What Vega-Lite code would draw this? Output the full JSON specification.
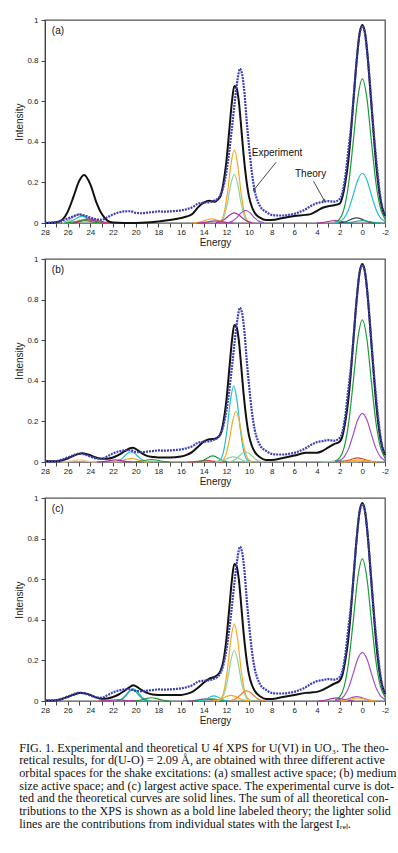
{
"$schema": "https://vega.github.io/schema/vega-lite/v6.json",
"padding": {"top": 15, "left": 14, "right": 8, "bottom": 4},
"config": {
  "font": "Liberation Sans",
  "view": {"stroke": "#555555", "strokeWidth": 1.3},
  "axis": {"grid": false, "domainColor": "#444444", "tickColor": "#444444", "tickSize": 4, "labelFont": "Liberation Sans", "labelFontSize": 8, "labelColor": "#222222", "titleFont": "Liberation Sans", "titleFontSize": 10, "titleFontWeight": "normal", "titleColor": "#222222"},
  "axisX": {"labelPadding": 5, "titlePadding": 1, "labelOverlap": false, "labelFlush": false},
  "axisY": {"labelPadding": 3, "titlePadding": 2}
},
"datasets": {
"exp": [
{"x":28,"y":0.003},{"x":27.5,"y":0.002},{"x":27,"y":0.004},{"x":26.5,"y":0.012},{"x":26,"y":0.022},{"x":25.5,"y":0.033},{"x":25,"y":0.042},{"x":24.5,"y":0.037},{"x":24,"y":0.027},{"x":23.5,"y":0.018},{"x":23,"y":0.016},{"x":22.5,"y":0.028},{"x":22,"y":0.042},{"x":21.5,"y":0.052},{"x":21,"y":0.057},{"x":20.5,"y":0.058},{"x":20,"y":0.05},{"x":19.5,"y":0.048},{"x":19,"y":0.051},{"x":18.5,"y":0.054},{"x":18,"y":0.057},{"x":17.5,"y":0.056},{"x":17,"y":0.057},{"x":16.5,"y":0.059},{"x":16,"y":0.062},{"x":15.5,"y":0.068},{"x":15,"y":0.078},{"x":14.5,"y":0.095},{"x":14,"y":0.1},{"x":13.5,"y":0.102},{"x":13,"y":0.112},{"x":12.75,"y":0.12},{"x":12.5,"y":0.14},{"x":12.25,"y":0.18},{"x":12,"y":0.25},{"x":11.75,"y":0.35},{"x":11.5,"y":0.47},{"x":11.25,"y":0.6},{"x":11,"y":0.71},{"x":10.8,"y":0.76},{"x":10.6,"y":0.73},{"x":10.4,"y":0.64},{"x":10.2,"y":0.5},{"x":10,"y":0.38},{"x":9.75,"y":0.25},{"x":9.5,"y":0.16},{"x":9.25,"y":0.11},{"x":9,"y":0.08},{"x":8.5,"y":0.055},{"x":8,"y":0.04},{"x":7.5,"y":0.037},{"x":7,"y":0.037},{"x":6.5,"y":0.04},{"x":6,"y":0.045},{"x":5.5,"y":0.055},{"x":5,"y":0.068},{"x":4.5,"y":0.085},{"x":4,"y":0.098},{"x":3.5,"y":0.103},{"x":3,"y":0.108},{"x":2.5,"y":0.105},{"x":2,"y":0.118},{"x":1.75,"y":0.15},{"x":1.5,"y":0.23},{"x":1.25,"y":0.35},{"x":1,"y":0.47},{"x":0.75,"y":0.63},{"x":0.5,"y":0.8},{"x":0.25,"y":0.93},{"x":0,"y":0.97},{"x":-0.25,"y":0.93},{"x":-0.5,"y":0.8},{"x":-0.75,"y":0.63},{"x":-1,"y":0.45},{"x":-1.25,"y":0.3},{"x":-1.5,"y":0.17},{"x":-1.75,"y":0.08},{"x":-2,"y":0.04}
],
"ta": [
{"x":28,"y":0},{"x":27,"y":0.004},{"x":26.5,"y":0.015},{"x":26,"y":0.055},{"x":25.5,"y":0.127},{"x":25,"y":0.205},{"x":24.55,"y":0.236},{"x":24,"y":0.19},{"x":23.5,"y":0.107},{"x":23,"y":0.045},{"x":22.5,"y":0.012},{"x":22,"y":0.002},{"x":21,"y":0},{"x":20,"y":0},{"x":19,"y":0.002},{"x":18,"y":0.008},{"x":17,"y":0.015},{"x":16,"y":0.025},{"x":15.5,"y":0.032},{"x":15,"y":0.044},{"x":14.5,"y":0.077},{"x":14,"y":0.1},{"x":13.5,"y":0.11},{"x":13,"y":0.105},{"x":12.75,"y":0.115},{"x":12.5,"y":0.135},{"x":12.25,"y":0.2},{"x":12,"y":0.3},{"x":11.75,"y":0.45},{"x":11.5,"y":0.6},{"x":11.3,"y":0.675},{"x":11.1,"y":0.665},{"x":10.9,"y":0.6},{"x":10.7,"y":0.48},{"x":10.5,"y":0.35},{"x":10.25,"y":0.22},{"x":10,"y":0.13},{"x":9.75,"y":0.08},{"x":9.5,"y":0.05},{"x":9,"y":0.025},{"x":8.5,"y":0.015},{"x":8,"y":0.015},{"x":7,"y":0.025},{"x":6,"y":0.035},{"x":5,"y":0.04},{"x":4.5,"y":0.045},{"x":4,"y":0.06},{"x":3.5,"y":0.075},{"x":3,"y":0.083},{"x":2.5,"y":0.087},{"x":2,"y":0.095},{"x":1.75,"y":0.13},{"x":1.5,"y":0.2},{"x":1.25,"y":0.3},{"x":1,"y":0.45},{"x":0.75,"y":0.63},{"x":0.5,"y":0.8},{"x":0.25,"y":0.93},{"x":0,"y":0.975},{"x":-0.25,"y":0.93},{"x":-0.5,"y":0.8},{"x":-0.75,"y":0.62},{"x":-1,"y":0.44},{"x":-1.25,"y":0.27},{"x":-1.5,"y":0.15},{"x":-1.75,"y":0.075},{"x":-2,"y":0.035}
],
"tb": [
{"x":28,"y":0.005},{"x":27.5,"y":0.004},{"x":27,"y":0.004},{"x":26.5,"y":0.008},{"x":26,"y":0.017},{"x":25.5,"y":0.03},{"x":25,"y":0.04},{"x":24.75,"y":0.043},{"x":24.5,"y":0.041},{"x":24,"y":0.033},{"x":23.5,"y":0.022},{"x":23,"y":0.016},{"x":22.5,"y":0.016},{"x":22,"y":0.022},{"x":21.5,"y":0.035},{"x":21,"y":0.052},{"x":20.5,"y":0.068},{"x":20.25,"y":0.07},{"x":20,"y":0.065},{"x":19.5,"y":0.045},{"x":19,"y":0.03},{"x":18.5,"y":0.025},{"x":18,"y":0.022},{"x":17,"y":0.022},{"x":16,"y":0.027},{"x":15.5,"y":0.035},{"x":15,"y":0.05},{"x":14.5,"y":0.075},{"x":14,"y":0.1},{"x":13.5,"y":0.112},{"x":13,"y":0.115},{"x":12.75,"y":0.122},{"x":12.5,"y":0.14},{"x":12.25,"y":0.2},{"x":12,"y":0.3},{"x":11.75,"y":0.45},{"x":11.5,"y":0.6},{"x":11.3,"y":0.675},{"x":11.1,"y":0.665},{"x":10.9,"y":0.6},{"x":10.7,"y":0.48},{"x":10.5,"y":0.35},{"x":10.25,"y":0.22},{"x":10,"y":0.13},{"x":9.75,"y":0.08},{"x":9.5,"y":0.05},{"x":9,"y":0.022},{"x":8.5,"y":0.01},{"x":8,"y":0.01},{"x":7,"y":0.02},{"x":6,"y":0.032},{"x":5,"y":0.045},{"x":4.5,"y":0.046},{"x":4,"y":0.045},{"x":3.5,"y":0.055},{"x":3,"y":0.072},{"x":2.5,"y":0.088},{"x":2,"y":0.1},{"x":1.75,"y":0.13},{"x":1.5,"y":0.2},{"x":1.25,"y":0.3},{"x":1,"y":0.45},{"x":0.75,"y":0.63},{"x":0.5,"y":0.8},{"x":0.25,"y":0.93},{"x":0,"y":0.975},{"x":-0.25,"y":0.93},{"x":-0.5,"y":0.8},{"x":-0.75,"y":0.62},{"x":-1,"y":0.44},{"x":-1.25,"y":0.27},{"x":-1.5,"y":0.15},{"x":-1.75,"y":0.075},{"x":-2,"y":0.035}
],
"tc": [
{"x":28,"y":0.002},{"x":27.5,"y":0.002},{"x":27,"y":0.004},{"x":26.5,"y":0.01},{"x":26,"y":0.02},{"x":25.5,"y":0.03},{"x":25,"y":0.039},{"x":24.75,"y":0.04},{"x":24.5,"y":0.038},{"x":24,"y":0.03},{"x":23.5,"y":0.018},{"x":23,"y":0.011},{"x":22.5,"y":0.012},{"x":22,"y":0.02},{"x":21.5,"y":0.032},{"x":21,"y":0.05},{"x":20.5,"y":0.07},{"x":20.2,"y":0.077},{"x":20,"y":0.073},{"x":19.5,"y":0.055},{"x":19,"y":0.04},{"x":18.5,"y":0.032},{"x":18,"y":0.03},{"x":17,"y":0.029},{"x":16,"y":0.03},{"x":15.5,"y":0.035},{"x":15,"y":0.045},{"x":14.5,"y":0.065},{"x":14,"y":0.09},{"x":13.5,"y":0.11},{"x":13,"y":0.12},{"x":12.75,"y":0.13},{"x":12.5,"y":0.15},{"x":12.25,"y":0.2},{"x":12,"y":0.3},{"x":11.75,"y":0.45},{"x":11.5,"y":0.6},{"x":11.3,"y":0.675},{"x":11.1,"y":0.665},{"x":10.9,"y":0.6},{"x":10.7,"y":0.48},{"x":10.5,"y":0.35},{"x":10.25,"y":0.22},{"x":10,"y":0.13},{"x":9.75,"y":0.08},{"x":9.5,"y":0.05},{"x":9,"y":0.022},{"x":8.5,"y":0.01},{"x":8,"y":0.01},{"x":7,"y":0.02},{"x":6,"y":0.03},{"x":5,"y":0.04},{"x":4.5,"y":0.042},{"x":4,"y":0.045},{"x":3.5,"y":0.055},{"x":3,"y":0.07},{"x":2.5,"y":0.085},{"x":2,"y":0.1},{"x":1.75,"y":0.13},{"x":1.5,"y":0.2},{"x":1.25,"y":0.3},{"x":1,"y":0.45},{"x":0.75,"y":0.63},{"x":0.5,"y":0.8},{"x":0.25,"y":0.93},{"x":0,"y":0.975},{"x":-0.25,"y":0.93},{"x":-0.5,"y":0.8},{"x":-0.75,"y":0.62},{"x":-1,"y":0.44},{"x":-1.25,"y":0.27},{"x":-1.5,"y":0.15},{"x":-1.75,"y":0.075},{"x":-2,"y":0.035}
],
"ca": [
{"s":"a1","c":"blue","x":26.6,"y":0.001},{"s":"a1","c":"blue","x":26.2,"y":0.006},{"s":"a1","c":"blue","x":25.8,"y":0.017},{"s":"a1","c":"blue","x":25.4,"y":0.034},{"s":"a1","c":"blue","x":25.0,"y":0.042},{"s":"a1","c":"blue","x":24.6,"y":0.034},{"s":"a1","c":"blue","x":24.2,"y":0.017},{"s":"a1","c":"blue","x":23.8,"y":0.006},{"s":"a1","c":"blue","x":23.4,"y":0.001},
{"s":"a2","c":"paleorange","x":26.5,"y":0.001},{"s":"a2","c":"paleorange","x":26.1,"y":0.006},{"s":"a2","c":"paleorange","x":25.7,"y":0.019},{"s":"a2","c":"paleorange","x":25.3,"y":0.037},{"s":"a2","c":"paleorange","x":24.9,"y":0.046},{"s":"a2","c":"paleorange","x":24.5,"y":0.037},{"s":"a2","c":"paleorange","x":24.1,"y":0.019},{"s":"a2","c":"paleorange","x":23.7,"y":0.006},{"s":"a2","c":"paleorange","x":23.3,"y":0.001},
{"s":"a3","c":"cyan","x":26.3,"y":0.001},{"s":"a3","c":"cyan","x":25.9,"y":0.005},{"s":"a3","c":"cyan","x":25.5,"y":0.014},{"s":"a3","c":"cyan","x":25.1,"y":0.027},{"s":"a3","c":"cyan","x":24.7,"y":0.034},{"s":"a3","c":"cyan","x":24.3,"y":0.027},{"s":"a3","c":"cyan","x":23.9,"y":0.014},{"s":"a3","c":"cyan","x":23.5,"y":0.005},{"s":"a3","c":"cyan","x":23.1,"y":0.001},
{"s":"a4","c":"orange","x":26.1,"y":0},{"s":"a4","c":"orange","x":25.7,"y":0.002},{"s":"a4","c":"orange","x":25.3,"y":0.007},{"s":"a4","c":"orange","x":24.9,"y":0.014},{"s":"a4","c":"orange","x":24.5,"y":0.018},{"s":"a4","c":"orange","x":24.1,"y":0.014},{"s":"a4","c":"orange","x":23.7,"y":0.007},{"s":"a4","c":"orange","x":23.3,"y":0.002},{"s":"a4","c":"orange","x":22.9,"y":0},
{"s":"a5","c":"red","x":25.6,"y":0.001},{"s":"a5","c":"red","x":25.2,"y":0.004},{"s":"a5","c":"red","x":24.8,"y":0.01},{"s":"a5","c":"red","x":24.4,"y":0.017},{"s":"a5","c":"red","x":24.0,"y":0.02},{"s":"a5","c":"red","x":23.6,"y":0.017},{"s":"a5","c":"red","x":23.2,"y":0.01},{"s":"a5","c":"red","x":22.8,"y":0.004},{"s":"a5","c":"red","x":22.4,"y":0.001},
{"s":"a6","c":"magenta","x":25.8,"y":0},{"s":"a6","c":"magenta","x":25.4,"y":0.002},{"s":"a6","c":"magenta","x":25.0,"y":0.007},{"s":"a6","c":"magenta","x":24.6,"y":0.013},{"s":"a6","c":"magenta","x":24.2,"y":0.016},{"s":"a6","c":"magenta","x":23.8,"y":0.013},{"s":"a6","c":"magenta","x":23.4,"y":0.007},{"s":"a6","c":"magenta","x":23.0,"y":0.002},{"s":"a6","c":"magenta","x":22.6,"y":0},
{"s":"a7","c":"green","x":26.2,"y":0},{"s":"a7","c":"green","x":25.8,"y":0.002},{"s":"a7","c":"green","x":25.4,"y":0.005},{"s":"a7","c":"green","x":25.0,"y":0.01},{"s":"a7","c":"green","x":24.6,"y":0.012},{"s":"a7","c":"green","x":24.2,"y":0.01},{"s":"a7","c":"green","x":23.8,"y":0.005},{"s":"a7","c":"green","x":23.4,"y":0.002},{"s":"a7","c":"green","x":23.0,"y":0},
{"s":"a8","c":"orange","x":14.9,"y":0.001},{"s":"a8","c":"orange","x":14.5,"y":0.003},{"s":"a8","c":"orange","x":14.1,"y":0.008},{"s":"a8","c":"orange","x":13.7,"y":0.016},{"s":"a8","c":"orange","x":13.3,"y":0.02},{"s":"a8","c":"orange","x":12.9,"y":0.016},{"s":"a8","c":"orange","x":12.5,"y":0.008},{"s":"a8","c":"orange","x":12.1,"y":0.003},{"s":"a8","c":"orange","x":11.7,"y":0.001},
{"s":"a9","c":"magenta","x":14.6,"y":0},{"s":"a9","c":"magenta","x":14.2,"y":0.001},{"s":"a9","c":"magenta","x":13.8,"y":0.004},{"s":"a9","c":"magenta","x":13.4,"y":0.008},{"s":"a9","c":"magenta","x":13.0,"y":0.01},{"s":"a9","c":"magenta","x":12.6,"y":0.008},{"s":"a9","c":"magenta","x":12.2,"y":0.004},{"s":"a9","c":"magenta","x":11.8,"y":0.001},{"s":"a9","c":"magenta","x":11.4,"y":0},
{"s":"a10","c":"orange","x":12.8,"y":0.001},{"s":"a10","c":"orange","x":12.5,"y":0.01},{"s":"a10","c":"orange","x":12.2,"y":0.049},{"s":"a10","c":"orange","x":11.9,"y":0.148},{"s":"a10","c":"orange","x":11.6,"y":0.288},{"s":"a10","c":"orange","x":11.3,"y":0.36},{"s":"a10","c":"orange","x":11.0,"y":0.288},{"s":"a10","c":"orange","x":10.7,"y":0.148},{"s":"a10","c":"orange","x":10.4,"y":0.049},{"s":"a10","c":"orange","x":10.1,"y":0.01},{"s":"a10","c":"orange","x":9.8,"y":0.001},
{"s":"a11","c":"lightgreen","x":12.8,"y":0.001},{"s":"a11","c":"lightgreen","x":12.5,"y":0.007},{"s":"a11","c":"lightgreen","x":12.2,"y":0.032},{"s":"a11","c":"lightgreen","x":11.9,"y":0.098},{"s":"a11","c":"lightgreen","x":11.6,"y":0.192},{"s":"a11","c":"lightgreen","x":11.3,"y":0.24},{"s":"a11","c":"lightgreen","x":11.0,"y":0.192},{"s":"a11","c":"lightgreen","x":10.7,"y":0.098},{"s":"a11","c":"lightgreen","x":10.4,"y":0.032},{"s":"a11","c":"lightgreen","x":10.1,"y":0.007},{"s":"a11","c":"lightgreen","x":9.8,"y":0.001},
{"s":"a12","c":"magenta","x":12.9,"y":0.001},{"s":"a12","c":"magenta","x":12.5,"y":0.007},{"s":"a12","c":"magenta","x":12.1,"y":0.021},{"s":"a12","c":"magenta","x":11.7,"y":0.04},{"s":"a12","c":"magenta","x":11.3,"y":0.05},{"s":"a12","c":"magenta","x":10.9,"y":0.04},{"s":"a12","c":"magenta","x":10.5,"y":0.021},{"s":"a12","c":"magenta","x":10.1,"y":0.007},{"s":"a12","c":"magenta","x":9.7,"y":0.001},
{"s":"a13","c":"purple","x":11.9,"y":0.002},{"s":"a13","c":"purple","x":11.5,"y":0.008},{"s":"a13","c":"purple","x":11.1,"y":0.025},{"s":"a13","c":"purple","x":10.7,"y":0.05},{"s":"a13","c":"purple","x":10.3,"y":0.062},{"s":"a13","c":"purple","x":9.9,"y":0.05},{"s":"a13","c":"purple","x":9.5,"y":0.025},{"s":"a13","c":"purple","x":9.1,"y":0.008},{"s":"a13","c":"purple","x":8.7,"y":0.002},
{"s":"a14","c":"magenta","x":4.0,"y":0},{"s":"a14","c":"magenta","x":3.6,"y":0.002},{"s":"a14","c":"magenta","x":3.2,"y":0.005},{"s":"a14","c":"magenta","x":2.8,"y":0.01},{"s":"a14","c":"magenta","x":2.4,"y":0.012},{"s":"a14","c":"magenta","x":2.0,"y":0.01},{"s":"a14","c":"magenta","x":1.6,"y":0.005},{"s":"a14","c":"magenta","x":1.2,"y":0.002},{"s":"a14","c":"magenta","x":0.8,"y":0},
{"s":"a15","c":"green","x":2.4,"y":0.005},{"s":"a15","c":"green","x":2.0,"y":0.02},{"s":"a15","c":"green","x":1.6,"y":0.073},{"s":"a15","c":"green","x":1.2,"y":0.197},{"s":"a15","c":"green","x":0.8,"y":0.402},{"s":"a15","c":"green","x":0.4,"y":0.616},{"s":"a15","c":"green","x":0,"y":0.71},{"s":"a15","c":"green","x":-0.4,"y":0.616},{"s":"a15","c":"green","x":-0.8,"y":0.402},{"s":"a15","c":"green","x":-1.2,"y":0.197},{"s":"a15","c":"green","x":-1.6,"y":0.073},{"s":"a15","c":"green","x":-2.0,"y":0.02},
{"s":"a16","c":"cyan","x":2.4,"y":0.002},{"s":"a16","c":"cyan","x":2.0,"y":0.007},{"s":"a16","c":"cyan","x":1.6,"y":0.025},{"s":"a16","c":"cyan","x":1.2,"y":0.068},{"s":"a16","c":"cyan","x":0.8,"y":0.139},{"s":"a16","c":"cyan","x":0.4,"y":0.212},{"s":"a16","c":"cyan","x":0,"y":0.245},{"s":"a16","c":"cyan","x":-0.4,"y":0.212},{"s":"a16","c":"cyan","x":-0.8,"y":0.139},{"s":"a16","c":"cyan","x":-1.2,"y":0.068},{"s":"a16","c":"cyan","x":-1.6,"y":0.025},{"s":"a16","c":"cyan","x":-2.0,"y":0.007},
{"s":"a17","c":"darkgray","x":2.1,"y":0.001},{"s":"a17","c":"darkgray","x":1.7,"y":0.003},{"s":"a17","c":"darkgray","x":1.3,"y":0.01},{"s":"a17","c":"darkgray","x":0.9,"y":0.02},{"s":"a17","c":"darkgray","x":0.5,"y":0.025},{"s":"a17","c":"darkgray","x":0.1,"y":0.02},{"s":"a17","c":"darkgray","x":-0.3,"y":0.01},{"s":"a17","c":"darkgray","x":-0.7,"y":0.003},{"s":"a17","c":"darkgray","x":-1.1,"y":0.001},
{"s":"a18","c":"teal","x":1.6,"y":0},{"s":"a18","c":"teal","x":1.2,"y":0.002},{"s":"a18","c":"teal","x":0.8,"y":0.005},{"s":"a18","c":"teal","x":0.4,"y":0.01},{"s":"a18","c":"teal","x":0,"y":0.012},{"s":"a18","c":"teal","x":-0.4,"y":0.01},{"s":"a18","c":"teal","x":-0.8,"y":0.005},{"s":"a18","c":"teal","x":-1.2,"y":0.002},{"s":"a18","c":"teal","x":-1.6,"y":0}
],
"cb": [
{"s":"b1","c":"cyan","x":22.0,"y":0.001},{"s":"b1","c":"cyan","x":21.6,"y":0.005},{"s":"b1","c":"cyan","x":21.3,"y":0.013},{"s":"b1","c":"cyan","x":21.0,"y":0.028},{"s":"b1","c":"cyan","x":20.7,"y":0.043},{"s":"b1","c":"cyan","x":20.4,"y":0.05},{"s":"b1","c":"cyan","x":20.1,"y":0.043},{"s":"b1","c":"cyan","x":19.8,"y":0.028},{"s":"b1","c":"cyan","x":19.5,"y":0.013},{"s":"b1","c":"cyan","x":19.2,"y":0.005},{"s":"b1","c":"cyan","x":18.8,"y":0.001},
{"s":"b2","c":"orange","x":22.0,"y":0},{"s":"b2","c":"orange","x":21.6,"y":0.002},{"s":"b2","c":"orange","x":21.2,"y":0.007},{"s":"b2","c":"orange","x":20.8,"y":0.014},{"s":"b2","c":"orange","x":20.4,"y":0.018},{"s":"b2","c":"orange","x":20.0,"y":0.014},{"s":"b2","c":"orange","x":19.6,"y":0.007},{"s":"b2","c":"orange","x":19.2,"y":0.002},{"s":"b2","c":"orange","x":18.8,"y":0},
{"s":"b3","c":"green","x":20.2,"y":0},{"s":"b3","c":"green","x":19.8,"y":0.002},{"s":"b3","c":"green","x":19.4,"y":0.005},{"s":"b3","c":"green","x":19.0,"y":0.01},{"s":"b3","c":"green","x":18.6,"y":0.012},{"s":"b3","c":"green","x":18.2,"y":0.01},{"s":"b3","c":"green","x":17.8,"y":0.005},{"s":"b3","c":"green","x":17.4,"y":0.002},{"s":"b3","c":"green","x":17.0,"y":0},
{"s":"b4","c":"magenta","x":23.4,"y":0},{"s":"b4","c":"magenta","x":23.0,"y":0.001},{"s":"b4","c":"magenta","x":22.6,"y":0.004},{"s":"b4","c":"magenta","x":22.2,"y":0.008},{"s":"b4","c":"magenta","x":21.8,"y":0.01},{"s":"b4","c":"magenta","x":21.4,"y":0.008},{"s":"b4","c":"magenta","x":21.0,"y":0.004},{"s":"b4","c":"magenta","x":20.6,"y":0.001},{"s":"b4","c":"magenta","x":20.2,"y":0},
{"s":"b5","c":"paleorange","x":26.6,"y":0},{"s":"b5","c":"paleorange","x":26.2,"y":0.001},{"s":"b5","c":"paleorange","x":25.8,"y":0.004},{"s":"b5","c":"paleorange","x":25.4,"y":0.008},{"s":"b5","c":"paleorange","x":25.0,"y":0.01},{"s":"b5","c":"paleorange","x":24.6,"y":0.008},{"s":"b5","c":"paleorange","x":24.2,"y":0.004},{"s":"b5","c":"paleorange","x":23.8,"y":0.001},{"s":"b5","c":"paleorange","x":23.4,"y":0},
{"s":"b6","c":"red","x":15.4,"y":0},{"s":"b6","c":"red","x":15.0,"y":0.001},{"s":"b6","c":"red","x":14.6,"y":0.003},{"s":"b6","c":"red","x":14.2,"y":0.006},{"s":"b6","c":"red","x":13.8,"y":0.008},{"s":"b6","c":"red","x":13.4,"y":0.006},{"s":"b6","c":"red","x":13.0,"y":0.003},{"s":"b6","c":"red","x":12.6,"y":0.001},{"s":"b6","c":"red","x":12.2,"y":0},
{"s":"b7","c":"green","x":14.6,"y":0.001},{"s":"b7","c":"green","x":14.2,"y":0.004},{"s":"b7","c":"green","x":13.8,"y":0.015},{"s":"b7","c":"green","x":13.5,"y":0.025},{"s":"b7","c":"green","x":13.2,"y":0.03},{"s":"b7","c":"green","x":12.9,"y":0.025},{"s":"b7","c":"green","x":12.6,"y":0.015},{"s":"b7","c":"green","x":12.2,"y":0.004},{"s":"b7","c":"green","x":11.8,"y":0.001},
{"s":"b8","c":"cyan","x":12.85,"y":0.002},{"s":"b8","c":"cyan","x":12.55,"y":0.01},{"s":"b8","c":"cyan","x":12.25,"y":0.051},{"s":"b8","c":"cyan","x":11.95,"y":0.154},{"s":"b8","c":"cyan","x":11.65,"y":0.3},{"s":"b8","c":"cyan","x":11.35,"y":0.375},{"s":"b8","c":"cyan","x":11.05,"y":0.3},{"s":"b8","c":"cyan","x":10.75,"y":0.154},{"s":"b8","c":"cyan","x":10.45,"y":0.051},{"s":"b8","c":"cyan","x":10.15,"y":0.01},{"s":"b8","c":"cyan","x":9.85,"y":0.002},
{"s":"b9","c":"orange","x":12.65,"y":0.001},{"s":"b9","c":"orange","x":12.35,"y":0.007},{"s":"b9","c":"orange","x":12.05,"y":0.034},{"s":"b9","c":"orange","x":11.75,"y":0.103},{"s":"b9","c":"orange","x":11.45,"y":0.2},{"s":"b9","c":"orange","x":11.15,"y":0.25},{"s":"b9","c":"orange","x":10.85,"y":0.2},{"s":"b9","c":"orange","x":10.55,"y":0.103},{"s":"b9","c":"orange","x":10.25,"y":0.034},{"s":"b9","c":"orange","x":9.95,"y":0.007},{"s":"b9","c":"orange","x":9.65,"y":0.001},
{"s":"b10","c":"lightgreen","x":11.9,"y":0.001},{"s":"b10","c":"lightgreen","x":11.5,"y":0.005},{"s":"b10","c":"lightgreen","x":11.2,"y":0.013},{"s":"b10","c":"lightgreen","x":10.9,"y":0.028},{"s":"b10","c":"lightgreen","x":10.6,"y":0.043},{"s":"b10","c":"lightgreen","x":10.3,"y":0.05},{"s":"b10","c":"lightgreen","x":10.0,"y":0.043},{"s":"b10","c":"lightgreen","x":9.7,"y":0.028},{"s":"b10","c":"lightgreen","x":9.4,"y":0.013},{"s":"b10","c":"lightgreen","x":9.1,"y":0.005},{"s":"b10","c":"lightgreen","x":8.7,"y":0.001},
{"s":"b11","c":"lightgreen","x":13.0,"y":0.001},{"s":"b11","c":"lightgreen","x":12.6,"y":0.003},{"s":"b11","c":"lightgreen","x":12.2,"y":0.01},{"s":"b11","c":"lightgreen","x":11.8,"y":0.02},{"s":"b11","c":"lightgreen","x":11.4,"y":0.025},{"s":"b11","c":"lightgreen","x":11.0,"y":0.02},{"s":"b11","c":"lightgreen","x":10.6,"y":0.01},{"s":"b11","c":"lightgreen","x":10.2,"y":0.003},{"s":"b11","c":"lightgreen","x":9.8,"y":0.001},
{"s":"b12","c":"lightgreen","x":3.6,"y":0},{"s":"b12","c":"lightgreen","x":3.2,"y":0.001},{"s":"b12","c":"lightgreen","x":2.8,"y":0.003},{"s":"b12","c":"lightgreen","x":2.4,"y":0.006},{"s":"b12","c":"lightgreen","x":2.0,"y":0.008},{"s":"b12","c":"lightgreen","x":1.6,"y":0.006},{"s":"b12","c":"lightgreen","x":1.2,"y":0.003},{"s":"b12","c":"lightgreen","x":0.8,"y":0.001},{"s":"b12","c":"lightgreen","x":0.4,"y":0},
{"s":"b13","c":"green","x":2.4,"y":0.005},{"s":"b13","c":"green","x":2.0,"y":0.02},{"s":"b13","c":"green","x":1.6,"y":0.072},{"s":"b13","c":"green","x":1.2,"y":0.195},{"s":"b13","c":"green","x":0.8,"y":0.396},{"s":"b13","c":"green","x":0.4,"y":0.607},{"s":"b13","c":"green","x":0,"y":0.7},{"s":"b13","c":"green","x":-0.4,"y":0.607},{"s":"b13","c":"green","x":-0.8,"y":0.396},{"s":"b13","c":"green","x":-1.2,"y":0.195},{"s":"b13","c":"green","x":-1.6,"y":0.072},{"s":"b13","c":"green","x":-2.0,"y":0.02},
{"s":"b14","c":"purple","x":2.4,"y":0.002},{"s":"b14","c":"purple","x":2.0,"y":0.007},{"s":"b14","c":"purple","x":1.6,"y":0.025},{"s":"b14","c":"purple","x":1.2,"y":0.067},{"s":"b14","c":"purple","x":0.8,"y":0.136},{"s":"b14","c":"purple","x":0.4,"y":0.208},{"s":"b14","c":"purple","x":0,"y":0.24},{"s":"b14","c":"purple","x":-0.4,"y":0.208},{"s":"b14","c":"purple","x":-0.8,"y":0.136},{"s":"b14","c":"purple","x":-1.2,"y":0.067},{"s":"b14","c":"purple","x":-1.6,"y":0.025},{"s":"b14","c":"purple","x":-2.0,"y":0.007},
{"s":"b15","c":"red","x":2.0,"y":0.001},{"s":"b15","c":"red","x":1.6,"y":0.003},{"s":"b15","c":"red","x":1.2,"y":0.008},{"s":"b15","c":"red","x":0.8,"y":0.016},{"s":"b15","c":"red","x":0.4,"y":0.02},{"s":"b15","c":"red","x":0.0,"y":0.016},{"s":"b15","c":"red","x":-0.4,"y":0.008},{"s":"b15","c":"red","x":-0.8,"y":0.003},{"s":"b15","c":"red","x":-1.2,"y":0.001},
{"s":"b16","c":"orange","x":1.9,"y":0},{"s":"b16","c":"orange","x":1.5,"y":0.001},{"s":"b16","c":"orange","x":1.1,"y":0.004},{"s":"b16","c":"orange","x":0.7,"y":0.008},{"s":"b16","c":"orange","x":0.3,"y":0.01},{"s":"b16","c":"orange","x":-0.1,"y":0.008},{"s":"b16","c":"orange","x":-0.5,"y":0.004},{"s":"b16","c":"orange","x":-0.9,"y":0.001},{"s":"b16","c":"orange","x":-1.3,"y":0}
],
"cc": [
{"s":"c1","c":"cyan","x":21.6,"y":0.001},{"s":"c1","c":"cyan","x":21.2,"y":0.008},{"s":"c1","c":"cyan","x":20.8,"y":0.029},{"s":"c1","c":"cyan","x":20.5,"y":0.05},{"s":"c1","c":"cyan","x":20.2,"y":0.06},{"s":"c1","c":"cyan","x":19.9,"y":0.05},{"s":"c1","c":"cyan","x":19.6,"y":0.029},{"s":"c1","c":"cyan","x":19.2,"y":0.008},{"s":"c1","c":"cyan","x":18.8,"y":0.001},
{"s":"c2","c":"teal","x":21.7,"y":0.001},{"s":"c2","c":"teal","x":21.3,"y":0.007},{"s":"c2","c":"teal","x":20.9,"y":0.027},{"s":"c2","c":"teal","x":20.6,"y":0.046},{"s":"c2","c":"teal","x":20.3,"y":0.055},{"s":"c2","c":"teal","x":20.0,"y":0.046},{"s":"c2","c":"teal","x":19.7,"y":0.027},{"s":"c2","c":"teal","x":19.3,"y":0.007},{"s":"c2","c":"teal","x":18.9,"y":0.001},
{"s":"c3","c":"green","x":20.2,"y":0},{"s":"c3","c":"green","x":19.8,"y":0.002},{"s":"c3","c":"green","x":19.4,"y":0.007},{"s":"c3","c":"green","x":19.0,"y":0.013},{"s":"c3","c":"green","x":18.6,"y":0.016},{"s":"c3","c":"green","x":18.2,"y":0.013},{"s":"c3","c":"green","x":17.8,"y":0.007},{"s":"c3","c":"green","x":17.4,"y":0.002},{"s":"c3","c":"green","x":17.0,"y":0},
{"s":"c4","c":"magenta","x":23.2,"y":0},{"s":"c4","c":"magenta","x":22.8,"y":0.001},{"s":"c4","c":"magenta","x":22.4,"y":0.002},{"s":"c4","c":"magenta","x":22.0,"y":0.005},{"s":"c4","c":"magenta","x":21.6,"y":0.006},{"s":"c4","c":"magenta","x":21.2,"y":0.005},{"s":"c4","c":"magenta","x":20.8,"y":0.002},{"s":"c4","c":"magenta","x":20.4,"y":0.001},{"s":"c4","c":"magenta","x":20.0,"y":0},
{"s":"c5","c":"magenta","x":15.4,"y":0},{"s":"c5","c":"magenta","x":15.0,"y":0.001},{"s":"c5","c":"magenta","x":14.6,"y":0.004},{"s":"c5","c":"magenta","x":14.2,"y":0.008},{"s":"c5","c":"magenta","x":13.8,"y":0.01},{"s":"c5","c":"magenta","x":13.4,"y":0.008},{"s":"c5","c":"magenta","x":13.0,"y":0.004},{"s":"c5","c":"magenta","x":12.6,"y":0.001},{"s":"c5","c":"magenta","x":12.2,"y":0},
{"s":"c6","c":"green","x":14.9,"y":0},{"s":"c6","c":"green","x":14.5,"y":0.001},{"s":"c6","c":"green","x":14.1,"y":0.004},{"s":"c6","c":"green","x":13.7,"y":0.008},{"s":"c6","c":"green","x":13.3,"y":0.01},{"s":"c6","c":"green","x":12.9,"y":0.008},{"s":"c6","c":"green","x":12.5,"y":0.004},{"s":"c6","c":"green","x":12.1,"y":0.001},{"s":"c6","c":"green","x":11.7,"y":0},
{"s":"c7","c":"cyan","x":14.5,"y":0.001},{"s":"c7","c":"cyan","x":14.1,"y":0.003},{"s":"c7","c":"cyan","x":13.7,"y":0.012},{"s":"c7","c":"cyan","x":13.4,"y":0.021},{"s":"c7","c":"cyan","x":13.1,"y":0.025},{"s":"c7","c":"cyan","x":12.8,"y":0.021},{"s":"c7","c":"cyan","x":12.5,"y":0.012},{"s":"c7","c":"cyan","x":12.1,"y":0.003},{"s":"c7","c":"cyan","x":11.7,"y":0.001},
{"s":"c8","c":"orange","x":12.8,"y":0.002},{"s":"c8","c":"orange","x":12.5,"y":0.011},{"s":"c8","c":"orange","x":12.2,"y":0.051},{"s":"c8","c":"orange","x":11.9,"y":0.156},{"s":"c8","c":"orange","x":11.6,"y":0.304},{"s":"c8","c":"orange","x":11.3,"y":0.38},{"s":"c8","c":"orange","x":11.0,"y":0.304},{"s":"c8","c":"orange","x":10.7,"y":0.156},{"s":"c8","c":"orange","x":10.4,"y":0.051},{"s":"c8","c":"orange","x":10.1,"y":0.011},{"s":"c8","c":"orange","x":9.8,"y":0.002},
{"s":"c9","c":"lightgreen","x":12.8,"y":0.001},{"s":"c9","c":"lightgreen","x":12.5,"y":0.007},{"s":"c9","c":"lightgreen","x":12.2,"y":0.034},{"s":"c9","c":"lightgreen","x":11.9,"y":0.103},{"s":"c9","c":"lightgreen","x":11.6,"y":0.2},{"s":"c9","c":"lightgreen","x":11.3,"y":0.25},{"s":"c9","c":"lightgreen","x":11.0,"y":0.2},{"s":"c9","c":"lightgreen","x":10.7,"y":0.103},{"s":"c9","c":"lightgreen","x":10.4,"y":0.034},{"s":"c9","c":"lightgreen","x":10.1,"y":0.007},{"s":"c9","c":"lightgreen","x":9.8,"y":0.001},
{"s":"c10","c":"orange","x":13.2,"y":0.001},{"s":"c10","c":"orange","x":12.8,"y":0.004},{"s":"c10","c":"orange","x":12.4,"y":0.011},{"s":"c10","c":"orange","x":12.0,"y":0.022},{"s":"c10","c":"orange","x":11.6,"y":0.028},{"s":"c10","c":"orange","x":11.2,"y":0.022},{"s":"c10","c":"orange","x":10.8,"y":0.011},{"s":"c10","c":"orange","x":10.4,"y":0.004},{"s":"c10","c":"orange","x":10.0,"y":0.001},
{"s":"c11","c":"rust","x":11.8,"y":0.001},{"s":"c11","c":"rust","x":11.4,"y":0.005},{"s":"c11","c":"rust","x":11.1,"y":0.013},{"s":"c11","c":"rust","x":10.8,"y":0.028},{"s":"c11","c":"rust","x":10.5,"y":0.043},{"s":"c11","c":"rust","x":10.2,"y":0.05},{"s":"c11","c":"rust","x":9.9,"y":0.043},{"s":"c11","c":"rust","x":9.6,"y":0.028},{"s":"c11","c":"rust","x":9.3,"y":0.013},{"s":"c11","c":"rust","x":9.0,"y":0.005},{"s":"c11","c":"rust","x":8.6,"y":0.001},
{"s":"c12","c":"magenta","x":3.9,"y":0},{"s":"c12","c":"magenta","x":3.5,"y":0.002},{"s":"c12","c":"magenta","x":3.1,"y":0.006},{"s":"c12","c":"magenta","x":2.7,"y":0.012},{"s":"c12","c":"magenta","x":2.3,"y":0.015},{"s":"c12","c":"magenta","x":1.9,"y":0.012},{"s":"c12","c":"magenta","x":1.5,"y":0.006},{"s":"c12","c":"magenta","x":1.1,"y":0.002},{"s":"c12","c":"magenta","x":0.7,"y":0},
{"s":"c13","c":"green","x":2.4,"y":0.005},{"s":"c13","c":"green","x":2.0,"y":0.02},{"s":"c13","c":"green","x":1.6,"y":0.072},{"s":"c13","c":"green","x":1.2,"y":0.195},{"s":"c13","c":"green","x":0.8,"y":0.396},{"s":"c13","c":"green","x":0.4,"y":0.607},{"s":"c13","c":"green","x":0,"y":0.7},{"s":"c13","c":"green","x":-0.4,"y":0.607},{"s":"c13","c":"green","x":-0.8,"y":0.396},{"s":"c13","c":"green","x":-1.2,"y":0.195},{"s":"c13","c":"green","x":-1.6,"y":0.072},{"s":"c13","c":"green","x":-2.0,"y":0.02},
{"s":"c14","c":"purple","x":2.4,"y":0.002},{"s":"c14","c":"purple","x":2.0,"y":0.007},{"s":"c14","c":"purple","x":1.6,"y":0.025},{"s":"c14","c":"purple","x":1.2,"y":0.067},{"s":"c14","c":"purple","x":0.8,"y":0.136},{"s":"c14","c":"purple","x":0.4,"y":0.208},{"s":"c14","c":"purple","x":0,"y":0.24},{"s":"c14","c":"purple","x":-0.4,"y":0.208},{"s":"c14","c":"purple","x":-0.8,"y":0.136},{"s":"c14","c":"purple","x":-1.2,"y":0.067},{"s":"c14","c":"purple","x":-1.6,"y":0.025},{"s":"c14","c":"purple","x":-2.0,"y":0.007},
{"s":"c15","c":"purple","x":2.1,"y":0.001},{"s":"c15","c":"purple","x":1.7,"y":0.003},{"s":"c15","c":"purple","x":1.3,"y":0.009},{"s":"c15","c":"purple","x":0.9,"y":0.018},{"s":"c15","c":"purple","x":0.5,"y":0.022},{"s":"c15","c":"purple","x":0.1,"y":0.018},{"s":"c15","c":"purple","x":-0.3,"y":0.009},{"s":"c15","c":"purple","x":-0.7,"y":0.003},{"s":"c15","c":"purple","x":-1.1,"y":0.001},
{"s":"c16","c":"orange","x":2.0,"y":0},{"s":"c16","c":"orange","x":1.6,"y":0.002},{"s":"c16","c":"orange","x":1.2,"y":0.006},{"s":"c16","c":"orange","x":0.8,"y":0.012},{"s":"c16","c":"orange","x":0.4,"y":0.015},{"s":"c16","c":"orange","x":0.0,"y":0.012},{"s":"c16","c":"orange","x":-0.4,"y":0.006},{"s":"c16","c":"orange","x":-0.8,"y":0.002},{"s":"c16","c":"orange","x":-1.2,"y":0}
]
},
"spacing": 6,
"title": {
  "text": [
    "FIG. 1.  Experimental and theoretical U 4f XPS for U(VI) in UO₃. The theo-",
    "retical results, for d(U-O) = 2.09 Å, are obtained with three different active",
    "orbital spaces for the shake excitations: (a) smallest active space; (b) medium",
    "size active space; and (c) largest active space. The experimental curve is dot-",
    "ted and the theoretical curves are solid lines. The sum of all theoretical con-",
    "tributions to the XPS is shown as a bold line labeled theory; the lighter solid",
    "lines are the contributions from individual states with the largest Iᵣₑₗ."
  ],
  "orient": "bottom", "anchor": "start", "font": "Liberation Serif", "fontSize": 12.2, "fontWeight": "normal", "color": "#111111", "lineHeight": 12.7, "offset": 16, "dx": 5
},
"vconcat": [
{
 "width": 340, "height": 203,
 "resolve": {"axis": {"x": "independent"}},
 "layer": [
  {"data": {"name": "ca"}, "mark": {"type": "line", "interpolate": "monotone", "strokeWidth": 1.2},
   "encoding": {
     "x": {"field": "x", "type": "quantitative", "scale": {"domain": [-2, 28], "reverse": true, "nice": false, "zero": false}, "axis": {"orient": "bottom", "title": null, "labels": false, "domain": false, "values": [28,27,26,25,24,23,22,21,20,19,18,17,16,15,14,13,12,11,10,9,8,7,6,5,4,3,2,1,0,-1,-2]}},
     "y": {"field": "y", "type": "quantitative", "scale": {"domain": [0, 1], "nice": false}, "axis": {"title": "Intensity", "values": [0, 0.2, 0.4, 0.6, 0.8, 1], "format": "~g"}},
     "color": {"field": "c", "type": "nominal", "legend": null, "scale": {"domain": ["green","cyan","orange","lightgreen","purple","magenta","red","blue","darkgray","paleorange","teal","rust"], "range": ["#1f9a3a","#22bfd0","#f7a823","#8fd19b","#a24fc6","#a8329a","#e0413a","#3a55c8","#444444","#f2c596","#1aa39a","#e87a3a"]}},
     "detail": {"field": "s"}
   }},
  {"data": {"name": "ta"}, "mark": {"type": "line", "interpolate": "monotone", "color": "#111111", "strokeWidth": 2}, "encoding": {"x": {"field": "x", "type": "quantitative", "axis": {"orient": "bottom", "title": "Energy", "ticks": false, "domain": false, "values": [28,26,24,22,20,18,16,14,12,10,8,6,4,2,0,-2], "labelExpr": "'' + datum.value"}}, "y": {"field": "y", "type": "quantitative"}}},
  {"data": {"name": "exp"}, "mark": {"type": "line", "interpolate": "monotone", "color": "#3b3fb6", "strokeWidth": 2.2, "strokeDash": [2, 1]}, "encoding": {"x": {"field": "x", "type": "quantitative", "axis": null}, "y": {"field": "y", "type": "quantitative"}}},
  {"data": {"values": [{"x": 27.4, "y": 0.945, "t": "(a)"}, {"x": 9.76, "y": 0.345, "t": "Experiment"}, {"x": 5.94, "y": 0.24, "t": "Theory"}]}, "mark": {"type": "text", "align": "left", "baseline": "middle", "fontSize": 10, "color": "#111111"}, "encoding": {"x": {"field": "x", "type": "quantitative", "axis": null}, "y": {"field": "y", "type": "quantitative"}, "text": {"field": "t"}}},
  {"data": {"values": [{"x": 7.6, "y": 0.3, "x2": 9.5, "y2": 0.168}, {"x": 4.3, "y": 0.205, "x2": 3.4, "y2": 0.115}]}, "mark": {"type": "rule", "color": "#333333", "strokeWidth": 0.9}, "encoding": {"x": {"field": "x", "type": "quantitative", "axis": null}, "y": {"field": "y", "type": "quantitative"}, "x2": {"field": "x2"}, "y2": {"field": "y2"}}},
  {"data": {"values": [{"x": 9.55, "y": 0.164}]}, "mark": {"type": "point", "shape": "triangle", "filled": true, "color": "#222222", "size": 14, "angle": 218}, "encoding": {"x": {"field": "x", "type": "quantitative", "axis": null}, "y": {"field": "y", "type": "quantitative"}}},
  {"data": {"values": [{"x": 3.38, "y": 0.112}]}, "mark": {"type": "point", "shape": "triangle", "filled": true, "color": "#222222", "size": 14, "angle": 150}, "encoding": {"x": {"field": "x", "type": "quantitative", "axis": null}, "y": {"field": "y", "type": "quantitative"}}}
 ]
},
{
 "width": 340, "height": 203,
 "resolve": {"axis": {"x": "independent"}},
 "layer": [
  {"data": {"name": "cb"}, "mark": {"type": "line", "interpolate": "monotone", "strokeWidth": 1.2},
   "encoding": {
     "x": {"field": "x", "type": "quantitative", "scale": {"domain": [-2, 28], "reverse": true, "nice": false, "zero": false}, "axis": {"orient": "bottom", "title": null, "labels": false, "domain": false, "values": [28,27,26,25,24,23,22,21,20,19,18,17,16,15,14,13,12,11,10,9,8,7,6,5,4,3,2,1,0,-1,-2]}},
     "y": {"field": "y", "type": "quantitative", "scale": {"domain": [0, 1], "nice": false}, "axis": {"title": "Intensity", "values": [0, 0.2, 0.4, 0.6, 0.8, 1], "format": "~g"}},
     "color": {"field": "c", "type": "nominal", "legend": null, "scale": {"domain": ["green","cyan","orange","lightgreen","purple","magenta","red","blue","darkgray","paleorange","teal","rust"], "range": ["#1f9a3a","#22bfd0","#f7a823","#8fd19b","#a24fc6","#a8329a","#e0413a","#3a55c8","#444444","#f2c596","#1aa39a","#e87a3a"]}},
     "detail": {"field": "s"}
   }},
  {"data": {"name": "tb"}, "mark": {"type": "line", "interpolate": "monotone", "color": "#111111", "strokeWidth": 2}, "encoding": {"x": {"field": "x", "type": "quantitative", "axis": {"orient": "bottom", "title": "Energy", "ticks": false, "domain": false, "values": [28,26,24,22,20,18,16,14,12,10,8,6,4,2,0,-2], "labelExpr": "'' + datum.value"}}, "y": {"field": "y", "type": "quantitative"}}},
  {"data": {"name": "exp"}, "mark": {"type": "line", "interpolate": "monotone", "color": "#3b3fb6", "strokeWidth": 2.2, "strokeDash": [2, 1]}, "encoding": {"x": {"field": "x", "type": "quantitative", "axis": null}, "y": {"field": "y", "type": "quantitative"}}},
  {"data": {"values": [{"x": 27.4, "y": 0.945, "t": "(b)"}]}, "mark": {"type": "text", "align": "left", "baseline": "middle", "fontSize": 10, "color": "#111111"}, "encoding": {"x": {"field": "x", "type": "quantitative", "axis": null}, "y": {"field": "y", "type": "quantitative"}, "text": {"field": "t"}}}
 ]
},
{
 "width": 340, "height": 203,
 "resolve": {"axis": {"x": "independent"}},
 "layer": [
  {"data": {"name": "cc"}, "mark": {"type": "line", "interpolate": "monotone", "strokeWidth": 1.2},
   "encoding": {
     "x": {"field": "x", "type": "quantitative", "scale": {"domain": [-2, 28], "reverse": true, "nice": false, "zero": false}, "axis": {"orient": "bottom", "title": null, "labels": false, "domain": false, "values": [28,27,26,25,24,23,22,21,20,19,18,17,16,15,14,13,12,11,10,9,8,7,6,5,4,3,2,1,0,-1,-2]}},
     "y": {"field": "y", "type": "quantitative", "scale": {"domain": [0, 1], "nice": false}, "axis": {"title": "Intensity", "values": [0, 0.2, 0.4, 0.6, 0.8, 1], "format": "~g"}},
     "color": {"field": "c", "type": "nominal", "legend": null, "scale": {"domain": ["green","cyan","orange","lightgreen","purple","magenta","red","blue","darkgray","paleorange","teal","rust"], "range": ["#1f9a3a","#22bfd0","#f7a823","#8fd19b","#a24fc6","#a8329a","#e0413a","#3a55c8","#444444","#f2c596","#1aa39a","#e87a3a"]}},
     "detail": {"field": "s"}
   }},
  {"data": {"name": "tc"}, "mark": {"type": "line", "interpolate": "monotone", "color": "#111111", "strokeWidth": 2}, "encoding": {"x": {"field": "x", "type": "quantitative", "axis": {"orient": "bottom", "title": "Energy", "ticks": false, "domain": false, "values": [28,26,24,22,20,18,16,14,12,10,8,6,4,2,0,-2], "labelExpr": "'' + datum.value"}}, "y": {"field": "y", "type": "quantitative"}}},
  {"data": {"name": "exp"}, "mark": {"type": "line", "interpolate": "monotone", "color": "#3b3fb6", "strokeWidth": 2.2, "strokeDash": [2, 1]}, "encoding": {"x": {"field": "x", "type": "quantitative", "axis": null}, "y": {"field": "y", "type": "quantitative"}}},
  {"data": {"values": [{"x": 27.4, "y": 0.945, "t": "(c)"}]}, "mark": {"type": "text", "align": "left", "baseline": "middle", "fontSize": 10, "color": "#111111"}, "encoding": {"x": {"field": "x", "type": "quantitative", "axis": null}, "y": {"field": "y", "type": "quantitative"}, "text": {"field": "t"}}}
 ]
}
]
}
